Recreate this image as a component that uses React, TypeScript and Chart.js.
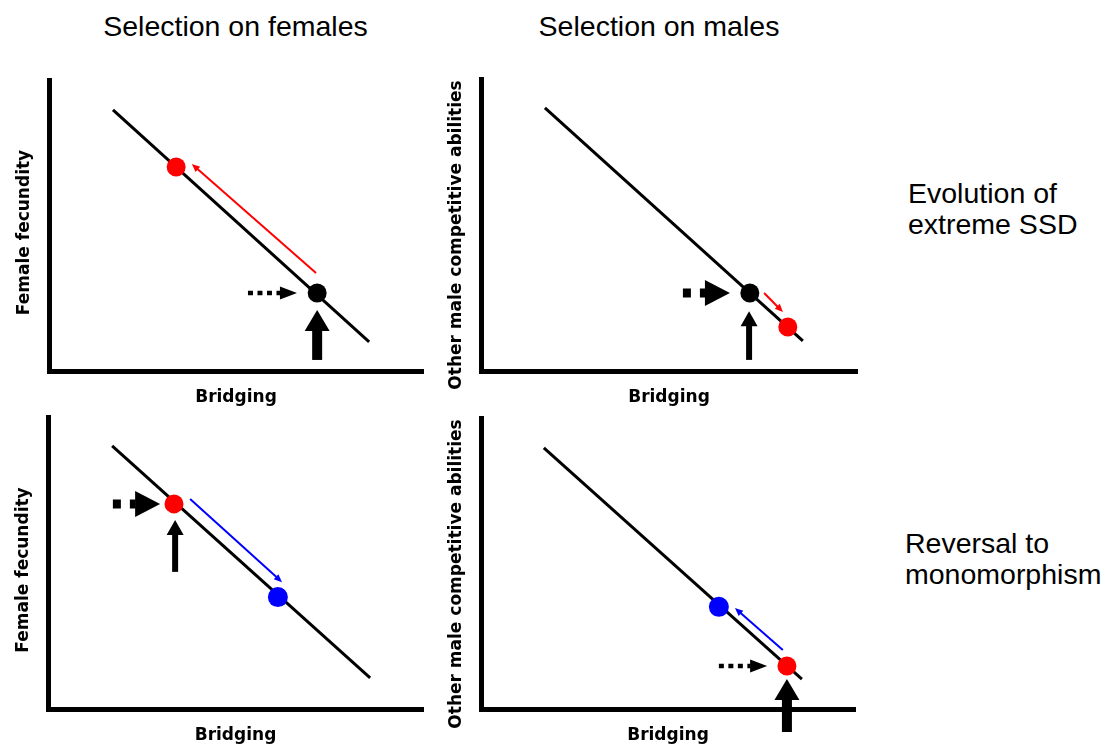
import React, { useEffect, useRef } from 'react';
import { Chart, registerables } from 'chart.js';

Chart.register(...registerables);

// ---------- text ----------
const COLUMN_TITLES = ['Selection on females', 'Selection on males'];
const ROW_LABELS = [
  ['Evolution of', 'extreme SSD'],
  ['Reversal to', 'monomorphism'],
];
const X_TITLE = 'Bridging';
const Y_TITLES = ['Female fecundity', 'Other male competitive abilities', 'Female fecundity', 'Other male competitive abilities'];

// ---------- data (axis units 0–10, one entry per panel: TL, TR, BL, BR) ----------
const LINE_X = [[1.71, 8.56], [1.70, 8.56], [1.71, 8.59], [1.68, 8.58]];
const LINE_Y = [[8.97, 1.00], [9.01, 1.03], [8.98, 1.06], [8.97, 1.03]];

const POINT_X = [[3.40, 7.17], [7.15, 8.16], [3.36, 6.13], [6.36, 8.18]];
const POINT_Y = [[7.01, 2.68], [2.67, 1.51], [7.00, 3.82], [3.51, 1.48]];
const POINT_KIND = [['red', 'black'], ['black', 'red'], ['red', 'blue'], ['blue', 'red']];

// arrows: [x start, y start, x tip, y tip, kind]
const ARROWS_TL: [number, number, number, number, string][] = [
  [7.14, 3.37, 3.82, 7.11, 'red'],
  [5.32, 2.68, 6.63, 2.68, 'dotSmall'],
  [7.17, 0.38, 7.17, 2.10, 'upBig'],
];
const ARROWS_TR: [number, number, number, number, string][] = [
  [7.53, 2.67, 8.03, 2.02, 'red'],
  [5.37, 2.67, 6.62, 2.67, 'dotBig'],
  [7.13, 0.38, 7.13, 2.05, 'upThin'],
];
const ARROWS_BL: [number, number, number, number, string][] = [
  [3.79, 7.17, 6.24, 4.33, 'blue'],
  [1.73, 7.00, 2.99, 7.00, 'dotBig'],
  [3.39, 4.68, 3.39, 6.45, 'upThin'],
];
const ARROWS_BR: [number, number, number, number, string][] = [
  [8.07, 2.03, 6.79, 3.47, 'blue'],
  [6.36, 1.48, 7.65, 1.48, 'dotSmall'],
  [8.18, -0.79, 8.18, 1.03, 'upBig'],
];
const ARROWS = [ARROWS_TL, ARROWS_TR, ARROWS_BL, ARROWS_BR];

// ---------- styles ----------
const COLORS: Record<string, string> = { red: '#ff0000', black: '#000000', blue: '#0000ff' };
const POINT_RADIUS: Record<string, number> = { red: 9.5, black: 9.5, blue: 10 };

type ArrowStyle = { color: string; width: number; dash: number[]; headLen: number; headHalf: number };
const ARROW_STYLE: Record<string, ArrowStyle> = {
  red: { color: '#ff0000', width: 2, dash: [], headLen: 8, headHalf: 3.5 },
  blue: { color: '#0000ff', width: 2, dash: [], headLen: 8, headHalf: 3.5 },
  dotSmall: { color: '#000', width: 4.5, dash: [5, 4.5], headLen: 17, headHalf: 6.5 },
  dotBig: { color: '#000', width: 9, dash: [8, 9], headLen: 25, headHalf: 13 },
  upBig: { color: '#000', width: 10, dash: [], headLen: 21, headHalf: 12.5 },
  upThin: { color: '#000', width: 6, dash: [], headLen: 15, headHalf: 8.5 },
};

// canvas boxes and paddings (layout only)
const BOXES = [
  { left: 0, top: 50, width: 445, height: 365, pad: { left: 49, top: 30, right: 22, bottom: 9 } },
  { left: 445, top: 50, width: 430, height: 365, pad: { left: 36, top: 29, right: 18, bottom: 9 } },
  { left: 0, top: 415, width: 445, height: 329, pad: { left: 48, top: 1, right: 22, bottom: 0 } },
  { left: 445, top: 415, width: 430, height: 329, pad: { left: 36, top: 3, right: 20, bottom: 0 } },
];
const Y_TITLE_GAP = 24;
const Y_TITLE_SHIFT = [7, 10, 7.5, 10.5];

function drawArrow(ctx: CanvasRenderingContext2D, ax: number, ay: number, bx: number, by: number, s: ArrowStyle) {
  const dx = bx - ax;
  const dy = by - ay;
  const len = Math.hypot(dx, dy) || 1;
  const ux = dx / len;
  const uy = dy / len;
  const hx = bx - ux * s.headLen;
  const hy = by - uy * s.headLen;
  ctx.save();
  ctx.strokeStyle = s.color;
  ctx.fillStyle = s.color;
  ctx.lineWidth = s.width;
  ctx.lineCap = 'butt';
  ctx.setLineDash(s.dash);
  ctx.beginPath();
  ctx.moveTo(ax, ay);
  ctx.lineTo(hx + ux * 0.5, hy + uy * 0.5);
  ctx.stroke();
  ctx.setLineDash([]);
  ctx.beginPath();
  ctx.moveTo(bx, by);
  ctx.lineTo(hx - uy * s.headHalf, hy + ux * s.headHalf);
  ctx.lineTo(hx + uy * s.headHalf, hy - ux * s.headHalf);
  ctx.closePath();
  ctx.fill();
  ctx.restore();
}

function Panel({ idx }: { idx: number }) {
  const ref = useRef<HTMLCanvasElement>(null);
  const box = BOXES[idx];
  useEffect(() => {
    if (!ref.current) return;
    const arrows = ARROWS[idx];
    const arrowPlugin = {
      id: 'arrows' + idx,
      beforeDatasetsDraw(chart: any) {
        const { ctx, scales } = chart;
        const xs = scales.x;
        const ys = scales.y;
        for (const [x0, y0, x1, y1, kind] of arrows) {
          drawArrow(ctx, xs.getPixelForValue(x0), ys.getPixelForValue(y0), xs.getPixelForValue(x1), ys.getPixelForValue(y1), ARROW_STYLE[kind]);
        }
      },
      afterDraw(chart: any) {
        const { ctx, chartArea } = chart;
        ctx.save();
        ctx.translate(chartArea.left - Y_TITLE_GAP, (chartArea.top + chartArea.bottom) / 2 + Y_TITLE_SHIFT[idx]);
        ctx.rotate(-Math.PI / 2);
        ctx.font = 'bold 17px "DejaVu Sans"';
        ctx.fillStyle = '#000';
        ctx.textAlign = 'center';
        ctx.textBaseline = 'middle';
        ctx.fillText(Y_TITLES[idx], 0, 0);
        ctx.restore();
      },
    };
    const kinds = POINT_KIND[idx];
    const chart = new Chart(ref.current, {
      type: 'scatter',
      data: {
        datasets: [
          {
            data: POINT_X[idx].map((x, i) => ({ x, y: POINT_Y[idx][i] })),
            pointRadius: kinds.map((k) => POINT_RADIUS[k]),
            pointBackgroundColor: kinds.map((k) => COLORS[k]),
            pointBorderWidth: 0,
            showLine: false,
            clip: false,
          } as any,
          {
            data: LINE_X[idx].map((x, i) => ({ x, y: LINE_Y[idx][i] })),
            showLine: true,
            borderColor: '#000',
            borderWidth: 3,
            borderCapStyle: 'butt',
            pointRadius: 0,
            clip: false,
          } as any,
        ],
      },
      options: {
        animation: false,
        responsive: false,
        events: [],
        layout: { padding: box.pad, autoPadding: false },
        plugins: { legend: { display: false }, tooltip: { enabled: false }, title: { display: false } },
        scales: {
          x: {
            type: 'linear',
            min: 0,
            max: 10,
            grid: { display: false, drawTicks: false },
            border: { display: true, width: 5, color: '#000' },
            ticks: { display: false },
            title: {
              display: true,
              text: X_TITLE,
              color: '#000',
              font: { family: 'DejaVu Sans', size: 17, weight: 'bold', lineHeight: 1 },
              padding: { top: 18, bottom: 0 },
            },
          },
          y: {
            type: 'linear',
            min: 0,
            max: 10,
            grid: { display: false, drawTicks: false },
            border: { display: true, width: 5, color: '#000' },
            ticks: { display: false },
            title: { display: false },
          },
        },
      } as any,
      plugins: [arrowPlugin],
    });
    return () => chart.destroy();
  }, [idx]);
  return (
    <canvas
      ref={ref}
      width={box.width}
      height={box.height}
      style={{ position: 'absolute', left: box.left, top: box.top, width: box.width, height: box.height }}
    />
  );
}

const textStyle: React.CSSProperties = {
  position: 'absolute',
  fontFamily: '"Liberation Sans", Arial, sans-serif',
  fontSize: '28.5px',
  lineHeight: '31px',
  color: '#000',
  whiteSpace: 'nowrap',
};

export default function App() {
  return (
    <div style={{ position: 'absolute', left: 0, top: 0, width: 1110, height: 744, background: '#fff', overflow: 'hidden' }}>
      <div style={{ ...textStyle, left: 35.5, top: 11, width: 400, textAlign: 'center' }}>{COLUMN_TITLES[0]}</div>
      <div style={{ ...textStyle, left: 459, top: 11, width: 400, textAlign: 'center' }}>{COLUMN_TITLES[1]}</div>
      <div style={{ ...textStyle, left: 908, top: 178 }}>
        {ROW_LABELS[0][0]}
        <br />
        {ROW_LABELS[0][1]}
      </div>
      <div style={{ ...textStyle, left: 905, top: 528 }}>
        {ROW_LABELS[1][0]}
        <br />
        {ROW_LABELS[1][1]}
      </div>
      {[0, 1, 2, 3].map((i) => (
        <Panel key={i} idx={i} />
      ))}
    </div>
  );
}
